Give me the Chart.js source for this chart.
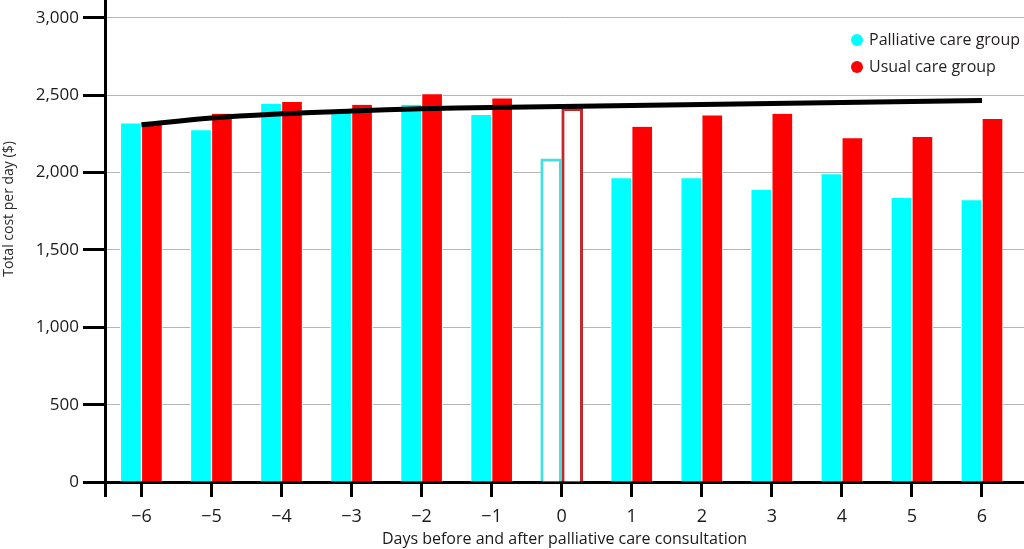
<!DOCTYPE html>
<html><head><meta charset="utf-8">
<script src="https://cdn.jsdelivr.net/npm/chart.js@4.4.0/dist/chart.umd.min.js"></script>
<style>html,body{margin:0;padding:0;background:#fff}#wrap{width:1024px;height:549px;position:relative}</style>
</head><body><div id="wrap"><canvas id="c"></canvas></div>
<script>
const days = [-6,-5,-4,-3,-2,-1,0,1,2,3,4,5,6];
const xTickLabels = ['\u22126','\u22125','\u22124','\u22123','\u22122','\u22121','0','1','2','3','4','5','6'];
const palliative = [2318,2274,2445,2400,2439,2373,2090,1963,1963,1890,1989,1836,1822];
const usual = [2310,2380,2456,2439,2507,2480,2415,2296,2370,2380,2222,2230,2347];
const trend = [2309,2353,2380,2398,2413,2421,2428,2434,2441,2447,2454,2460,2467];
const yTickValues = [0,500,1000,1500,2000,2500,3000];
const yTickLabels = ['0','500','1,000','1,500','2,000','2,500','3,000'];
const seriesNames = ['Palliative care group','Usual care group'];
const xTitle = 'Days before and after palliative care consultation';
const yTitle = 'Total cost per day ($)';

const CYAN = '#00ffff', RED = '#ff0000';
const CYAN_OUT = '#46dede', RED_OUT = '#c3282c';
const consultIdx = days.indexOf(0);

Chart.defaults.font.family = "'Open Sans', sans-serif";
Chart.defaults.color = '#1a1a1a';

const legendPlugin = {
  id: 'cornerLegend',
  afterDraw(chart, args, opts) {
    const ctx = chart.ctx;
    ctx.save();
    ctx.font = opts.fontSize + 'px ' + Chart.defaults.font.family;
    ctx.textBaseline = 'middle';
    chart.data.datasets.filter(d => d.legendColor).forEach((d, i) => {
      const y = opts.y + i * opts.rowGap;
      ctx.fillStyle = d.legendColor;
      ctx.beginPath(); ctx.arc(opts.x, y, opts.r, 0, Math.PI * 2); ctx.fill();
      ctx.fillStyle = '#231f20';
      ctx.fillText(d.label, opts.x + opts.r + 6, y);
    });
    ctx.restore();
  }
};
const sideTitlePlugin = {
  id: 'sideTitle',
  afterDraw(chart, args, opts) {
    const ctx = chart.ctx;
    ctx.save();
    ctx.translate(opts.x, opts.y);
    ctx.rotate(-Math.PI / 2);
    ctx.font = opts.fontSize + 'px ' + Chart.defaults.font.family;
    ctx.fillStyle = '#2a2a2a';
    ctx.textAlign = 'center';
    ctx.textBaseline = 'middle';
    ctx.fillText(opts.text, 0, 0);
    ctx.restore();
  }
};

const barStyle = (fill, outline) => ({
  backgroundColor: c => c.dataIndex === consultIdx ? '#fff' : fill,
  borderColor: c => c.dataIndex === consultIdx ? outline : '#fff',
  borderWidth: c => c.dataIndex === consultIdx ? 3 : { left: 1, right: 1, top: 0, bottom: 0 },
  borderSkipped: c => c.dataIndex === consultIdx ? 'start' : 'start',
  barThickness: 21
});

new Chart(document.getElementById('c'), {
  type: 'bar',
  data: {
    labels: days,
    datasets: [
      { type: 'line', label: 'Trend', data: trend, borderColor: '#000', borderWidth: 5,
        pointRadius: 0, tension: 0.4, fill: false, order: -1 },
      Object.assign({ label: seriesNames[0], data: palliative, legendColor: CYAN }, barStyle(CYAN, CYAN_OUT)),
      Object.assign({ label: seriesNames[1], data: usual, legendColor: RED }, barStyle(RED, RED_OUT))
    ]
  },
  options: {
    responsive: true, maintainAspectRatio: false, animation: false,
    layout: { padding: 0 },
    plugins: {
      legend: { display: false }, tooltip: { enabled: false },
      cornerLegend: { x: 857, y: 40, rowGap: 27, r: 6, fontSize: 16 },
      sideTitle: { x: 9, y: 209, text: yTitle, fontSize: 14 }
    },
    scales: {
      x: {
        type: 'linear', min: -6.52, max: 6.6, offset: false,
        grid: { drawOnChartArea: false, offset: false, tickLength: 15, tickWidth: 3, tickColor: '#000' },
        border: { color: '#000', width: 3 },
        ticks: { autoSkip: false, maxRotation: 0, padding: 9, font: { size: 18 }, color: '#1a1a1a',
          callback: v => { const i = days.indexOf(v); return i >= 0 ? xTickLabels[i] : ''; } },
        afterBuildTicks: s => { s.ticks = [{ value: s.min }].concat(days.map(v => ({ value: v }))); },
        afterFit: s => { s.height = 67; s.paddingLeft = 0; s.paddingRight = 0; },
        title: { display: true, text: xTitle, font: { size: 16 }, color: '#1a1a1a', padding: 0 }
      },
      y: {
        min: 0, max: 3116,
        grid: { color: '#b5b5b5', lineWidth: 1, tickLength: 22, tickWidth: 3, tickColor: '#000' },
        border: { color: '#000', width: 3 },
        ticks: { padding: 4, font: { size: 17 }, color: '#1a1a1a',
          callback: v => { const i = yTickValues.indexOf(v); return i >= 0 ? yTickLabels[i] : ''; } },
        afterBuildTicks: s => { s.ticks = yTickValues.map(v => ({ value: v })); },
        afterFit: s => { s.width = 105; s.paddingTop = 0; s.paddingBottom = 0; }
      }
    }
  },
  plugins: [legendPlugin, sideTitlePlugin]
});
</script>
</body></html>
